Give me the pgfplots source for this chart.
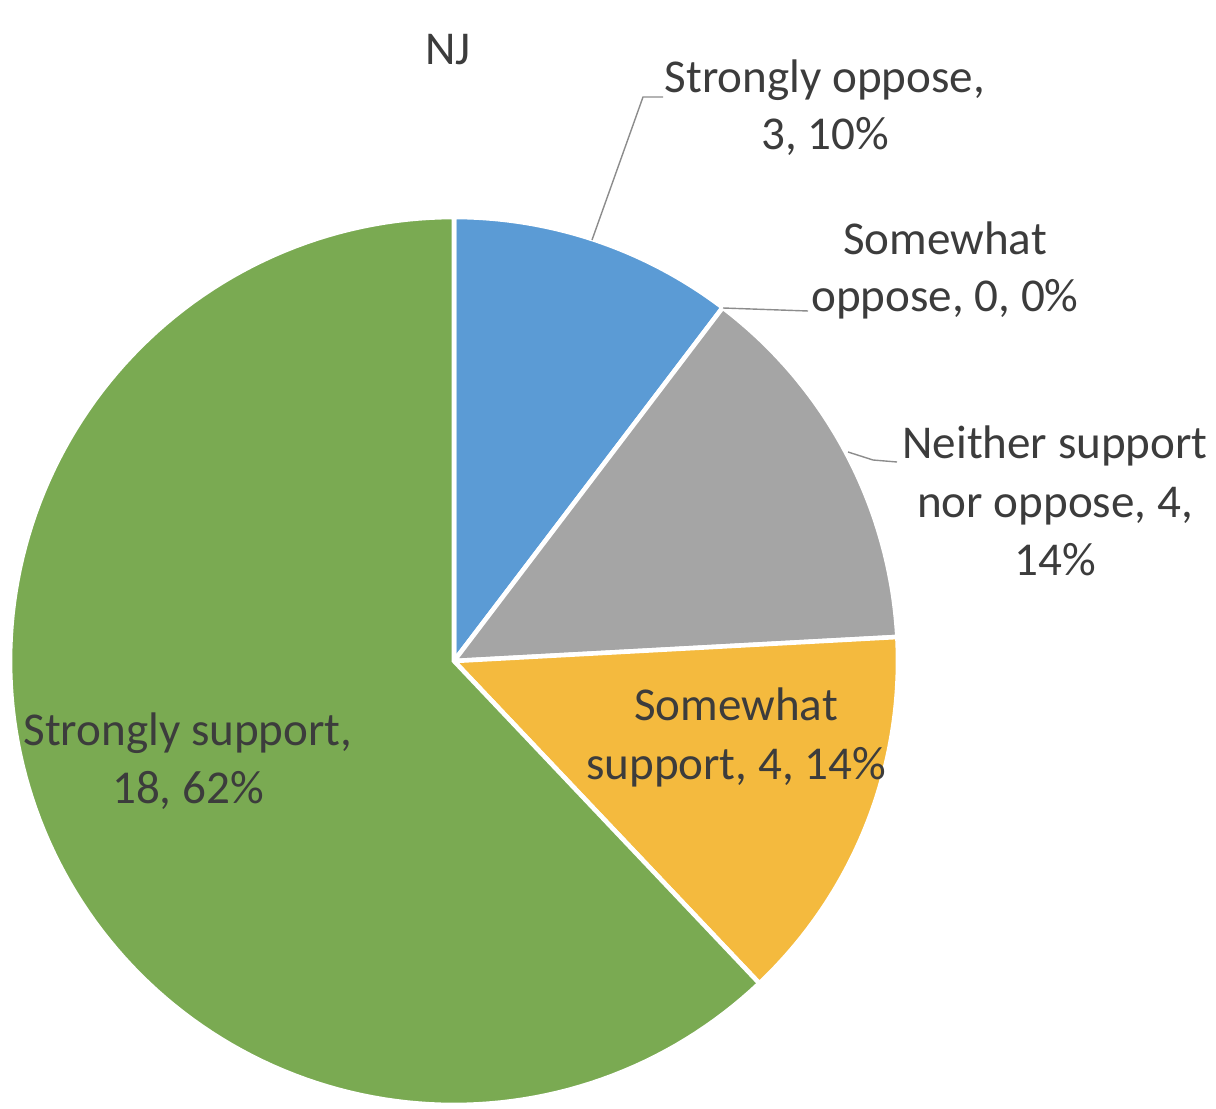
\documentclass[border=0pt]{standalone}
\usepackage{fontspec}
\setmainfont{Carlito}
\usepackage{pgfplots}
\pgfplotsset{compat=1.18}
\definecolor{cblue}{RGB}{91,155,213}
\definecolor{cgray}{RGB}{165,165,165}
\definecolor{cyellow}{RGB}{244,186,62}
\definecolor{cgreen}{RGB}{122,170,82}
\definecolor{ctext}{RGB}{60,60,60}
\definecolor{cline}{RGB}{140,140,140}
\tikzset{lbl/.style={anchor=base, text=ctext, font=\fontsize{13.4}{16}\selectfont, inner sep=0pt}}
% values (counts)
\def\vSO{3}   % Strongly oppose
\def\vSwO{0}  % Somewhat oppose
\def\vN{4}    % Neither support nor oppose
\def\vSwS{4}  % Somewhat support
\def\vSS{18}  % Strongly support
\begin{document}
\begin{tikzpicture}
\pgfmathsetmacro{\vT}{\vSO+\vSwO+\vN+\vSwS+\vSS}
\pgfmathsetmacro{\aA}{90}
\pgfmathsetmacro{\aB}{\aA-360*\vSO/\vT}
\pgfmathsetmacro{\aC}{\aB-360*\vSwO/\vT}
\pgfmathsetmacro{\aD}{\aC-360*\vN/\vT}
\pgfmathsetmacro{\aE}{\aD-360*\vSwS/\vT}
\pgfmathsetmacro{\aF}{\aE-360*\vSS/\vT}
\begin{axis}[
  width=12.16cm, height=11.08cm, scale only axis,
  xmin=0, xmax=1216, ymin=0, ymax=1108,
  hide axis, clip=false,
]
\path (rel axis cs:0,0) rectangle (rel axis cs:1,1);
\addplot[draw=white, line width=1.3pt, fill=cblue, domain=\aB:\aA, samples=60, variable=\t]
  ({454+444*cos(\t)},{447+444*sin(\t)}) -- (axis cs:454,447) -- cycle;
\addplot[draw=white, line width=1.3pt, fill=cgray, domain=\aD:\aC, samples=60, variable=\t]
  ({454+444*cos(\t)},{447+444*sin(\t)}) -- (axis cs:454,447) -- cycle;
\addplot[draw=white, line width=1.3pt, fill=cyellow, domain=\aE:\aD, samples=60, variable=\t]
  ({454+444*cos(\t)},{447+444*sin(\t)}) -- (axis cs:454,447) -- cycle;
\addplot[draw=white, line width=1.3pt, fill=cgreen, domain=\aF:\aE, samples=150, variable=\t]
  ({454+444*cos(\t)},{447+444*sin(\t)}) -- (axis cs:454,447) -- cycle;
% leader lines
\addplot[cline, line width=0.4pt] coordinates {(592,868) (643,1011) (663,1011)};
\addplot[cline, line width=0.4pt] coordinates {(723,800) (808,797)};
\addplot[cline, line width=0.4pt] coordinates {(848,656) (873,648) (897,646)};
% title
\node[lbl] at (axis cs:448,1043) {NJ};
% labels
\node[lbl] at (axis cs:825,1015) {Strongly oppose,};
\node[lbl] at (axis cs:825,958) {3, 10\%};
\node[lbl] at (axis cs:945,853) {Somewhat};
\node[lbl] at (axis cs:945,796) {oppose, 0, 0\%};
\node[lbl] at (axis cs:1055,650) {Neither support};
\node[lbl] at (axis cs:1055,591) {nor oppose, 4,};
\node[lbl] at (axis cs:1055,533) {14\%};
\node[lbl] at (axis cs:736,388) {Somewhat};
\node[lbl] at (axis cs:736,329) {support, 4, 14\%};
\node[lbl] at (axis cs:188,363) {Strongly support,};
\node[lbl] at (axis cs:188,305) {18, 62\%};
\end{axis}
\end{tikzpicture}
\end{document}
